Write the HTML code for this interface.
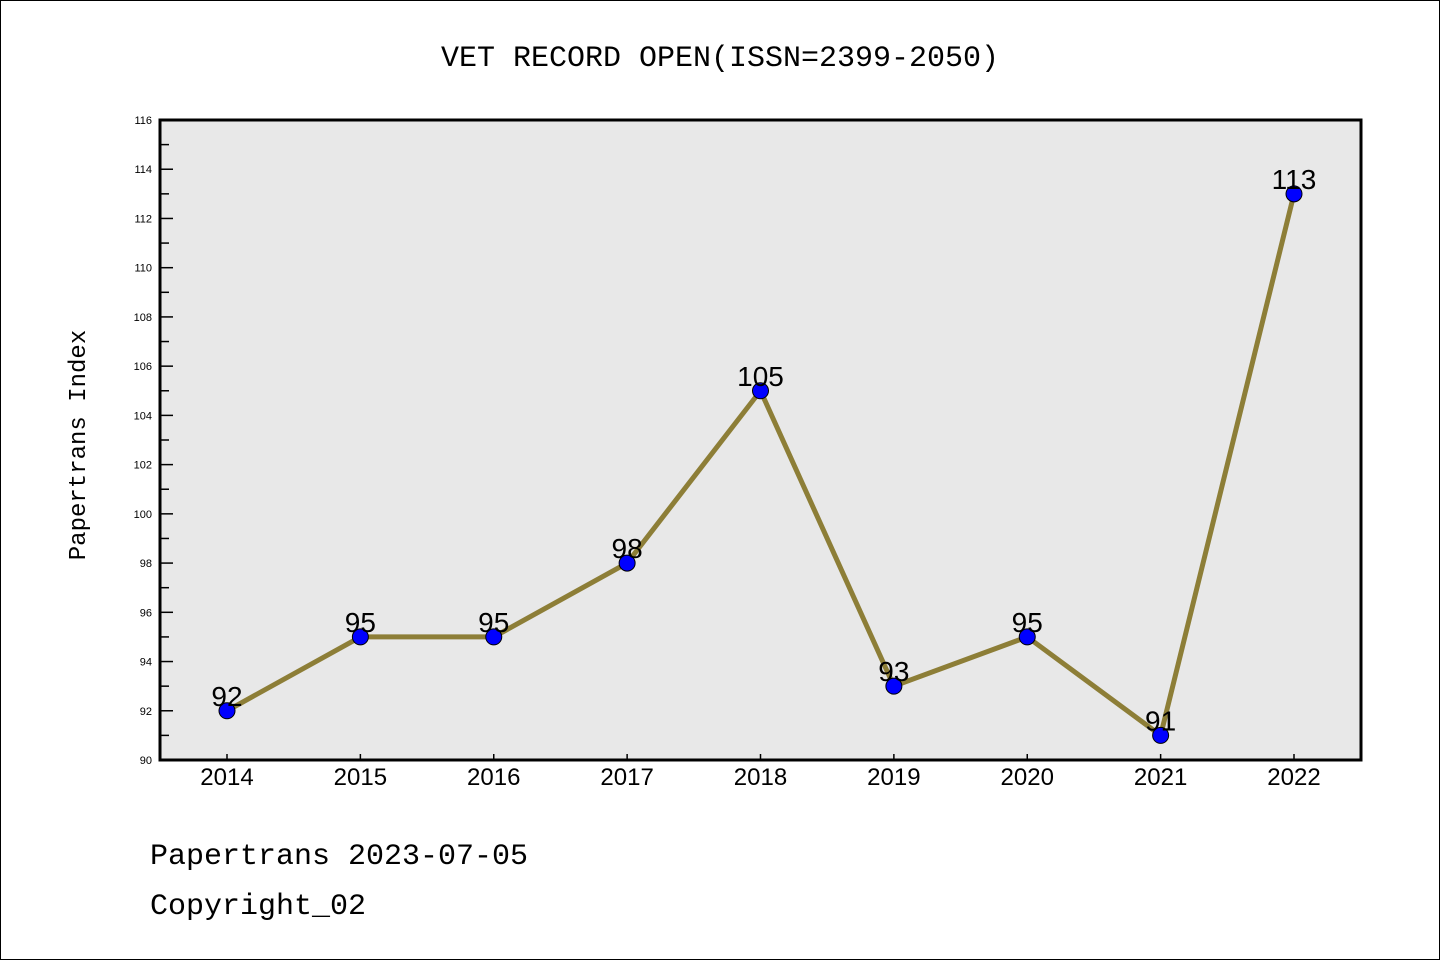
<!DOCTYPE html>
<html><head><meta charset="utf-8"><style>
body{margin:0;background:#fff;}
svg{display:block;}
.mono{font-family:"Liberation Mono","DejaVu Sans Mono",monospace;}
.sans{font-family:"Liberation Sans","DejaVu Sans",sans-serif;}
</style></head><body>
<svg id="chart" width="1440" height="960" xmlns="http://www.w3.org/2000/svg">
<rect x="0.5" y="0.5" width="1439" height="959" fill="#fff" stroke="#000"/>
<text class="mono" x="720" y="66" text-anchor="middle" font-size="30">VET RECORD OPEN(ISSN=2399-2050)</text>
<rect x="160" y="120" width="1201" height="640" fill="#e8e8e8"/>
<g id="axes"></g>
<g id="marks"></g>
<rect x="160" y="120" width="1201" height="640" fill="none" stroke="#000" stroke-width="3"/>
<text class="mono" transform="translate(85,445) rotate(-90)" text-anchor="middle" font-size="24">Papertrans Index</text>
<text class="mono" x="150" y="864" font-size="30">Papertrans 2023-07-05</text>
<text class="mono" x="150" y="914" font-size="30">Copyright_02</text>
</svg>
<script>
const years = ['2014','2015','2016','2017','2018','2019','2020','2021','2022'];
const values = [92,95,95,98,105,93,95,91,113];
const yTicks = [90,92,94,96,98,100,102,104,106,108,110,112,114,116];
const yMin = 90, yMax = 116;
const NS = 'http://www.w3.org/2000/svg';
function X(i){ return 227 + i*(1294-227)/(years.length-1); }
function Y(v){ return 760 - (v-yMin)/(yMax-yMin)*640; }
function mk(tag, attrs, parent){ const e=document.createElementNS(NS,tag); for(const k in attrs) e.setAttribute(k,attrs[k]); parent.appendChild(e); return e; }
const axes=document.getElementById('axes'), marks=document.getElementById('marks');
for(let v=yMin; v<=yMax; v++){
  const major = yTicks.includes(v);
  const t=mk('line',{x1:160,x2:major?173:169,y1:Y(v),y2:Y(v),stroke:'#000','stroke-width':1.5},axes);
  
  
}
yTicks.forEach(v=>{
  const t=mk('text',{x:152,y:Y(v)+4,'text-anchor':'end','font-size':11,'class':'sans'},axes);
  t.textContent=v;
  
  
});
years.forEach((y,i)=>{
  const t=mk('line',{x1:X(i),x2:X(i),y1:760,y2:754,stroke:'#000','stroke-width':1.5},axes);
  
  
  const l=mk('text',{x:X(i),y:785,'text-anchor':'middle','font-size':24,'class':'sans'},axes);
  l.textContent=y;
  
  
});
const pl=mk('polyline',{points:values.map((v,i)=>X(i)+','+Y(v)).join(' '),fill:'none',stroke:'#8d7e37','stroke-width':5},marks);


values.forEach((v,i)=>{
  const c=mk('circle',{cx:X(i),cy:Y(v),r:8,fill:'#0000ff',stroke:'#000','stroke-width':1},marks);
  
  
  const t=mk('text',{x:X(i),y:Y(v)-5,'text-anchor':'middle','font-size':28,'class':'sans'},marks);
  t.textContent=v;
  
  
});
</script>
</body></html>
